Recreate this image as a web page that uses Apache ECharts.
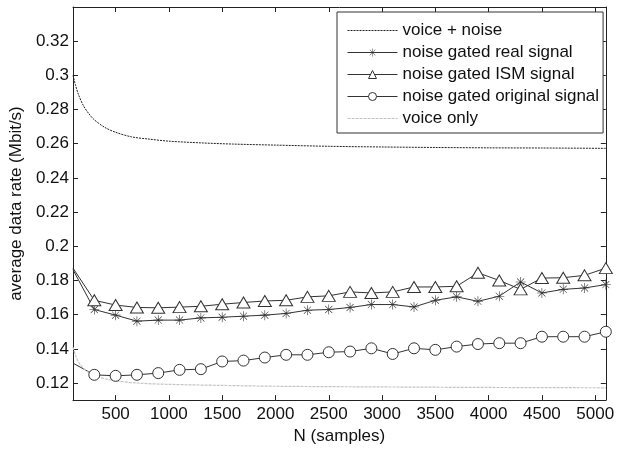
<!DOCTYPE html>
<html>
<head>
<meta charset="utf-8">
<script src="https://cdn.jsdelivr.net/npm/echarts@6/dist/echarts.min.js"></script>
<style>
  html, body { margin: 0; padding: 0; background: #fff; }
  #chart { width: 617px; height: 450px; }
</style>
</head>
<body>
<div id="chart"></div>
<script>
// x positions of the marker series (first point has no marker)
var nMarked = [100, 300, 500, 700, 900, 1100, 1300, 1500, 1700, 1900, 2100, 2300, 2500,
  2700, 2900, 3100, 3300, 3500, 3700, 3900, 4100, 4300, 4500, 4700, 4900, 5100];
var realSignal = [0.1863, 0.163, 0.1597, 0.1562, 0.1568, 0.1568, 0.1581, 0.1585, 0.1591, 0.1597, 0.1607, 0.1626, 0.163,
  0.1642, 0.1659, 0.1659, 0.1645, 0.1684, 0.1704, 0.1678, 0.1708, 0.1791, 0.1727, 0.1748, 0.1756, 0.1776];
var ismSignal = [0.1872, 0.1684, 0.1656, 0.1642, 0.164, 0.1644, 0.1649, 0.1661, 0.1671, 0.168, 0.1684, 0.1704, 0.171,
  0.1733, 0.1727, 0.1733, 0.1762, 0.1762, 0.1766, 0.1845, 0.18, 0.1748, 0.1814, 0.1816, 0.183, 0.1872];
var origSignal = [0.1316, 0.1248, 0.1242, 0.1248, 0.1258, 0.1277, 0.1281, 0.1326, 0.1331, 0.1349, 0.1365, 0.1365, 0.138,
  0.1384, 0.1403, 0.137, 0.1403, 0.1394, 0.1413, 0.1428, 0.1433, 0.1433, 0.1471, 0.1471, 0.1471, 0.150];

// dense curves
var nNoise = [100, 125, 150, 200, 250, 300, 400, 500, 650, 800, 1000, 1300, 1600, 2000, 2500, 3000, 3500, 4000, 4500, 5100];
var voiceNoise = [0.300, 0.294, 0.289, 0.282, 0.2775, 0.274, 0.2695, 0.2667, 0.264, 0.2628, 0.2615, 0.2605, 0.2598,
  0.2592, 0.2585, 0.2581, 0.2578, 0.2576, 0.2575, 0.2573];
var nVoice = [100, 125, 150, 200, 250, 300, 400, 500, 700, 1000, 1500, 2000, 3000, 4000, 5100];
var voiceOnly = [0.141, 0.136, 0.1325, 0.1285, 0.1262, 0.1245, 0.1225, 0.1213, 0.120, 0.1192, 0.1186, 0.1181, 0.1177, 0.1174, 0.1172];

var xTicks = [500, 1000, 1500, 2000, 2500, 3000, 3500, 4000, 4500, 5000];
var yTicks = [0.12, 0.14, 0.16, 0.18, 0.2, 0.22, 0.24, 0.26, 0.28, 0.3, 0.32];

var FONT = '"Liberation Sans", Arial, sans-serif';
var INK = '#222';
var asterisk = 'path://M9.4 0L10.6 0L10.6 20L9.4 20ZM0 9.4L20 9.4L20 10.6L0 10.6Z' +
  'M2.5 3.35L3.35 2.5L17.5 16.65L16.65 17.5Z' +
  'M16.65 2.5L17.5 3.35L3.35 17.5L2.5 16.65Z';

function pairs(xs, ys) {
  return xs.map(function (x, i) { return [x, ys[i]]; });
}
function marked(ys) {
  return nMarked.map(function (x, i) {
    var item = { value: [x, ys[i]] };
    if (i === 0) item.symbol = 'none';
    return item;
  });
}

var chart = echarts.init(document.getElementById('chart'));

var frameAxis = {
  axisLine: { show: true, onZero: false, lineStyle: { color: INK, width: 1 } },
  axisTick: { show: true, inside: true, length: 5, lineStyle: { color: INK } },
  splitLine: { show: false }
};

chart.setOption({
  animation: false,
  backgroundColor: '#fff',
  textStyle: { fontFamily: FONT },
  grid: { left: 68.5, right: 11, top: 7, bottom: 48 },
  legend: {
    orient: 'vertical',
    left: 337,
    top: 12,
    padding: [10, 4, 6, 10],
    itemWidth: 50,
    itemHeight: 10,
    itemGap: 5,
    backgroundColor: '#fff',
    borderColor: '#333',
    borderWidth: 1,
    borderRadius: 0,
    textStyle: { fontFamily: FONT, fontSize: 17, color: '#111' },
    data: [
      { name: 'voice + noise', itemStyle: { opacity: 0 }, lineStyle: { width: 1 } },
      { name: 'noise gated real signal', lineStyle: { width: 1 } },
      { name: 'noise gated ISM signal', itemStyle: { borderWidth: 1 }, lineStyle: { width: 1 } },
      { name: 'noise gated original signal', itemStyle: { borderWidth: 1 }, lineStyle: { width: 1 } },
      { name: 'voice only', itemStyle: { opacity: 0 }, lineStyle: { width: 1 } }
    ]
  },
  xAxis: [
    Object.assign({}, frameAxis, {
      type: 'value', min: 100, max: 5100, position: 'bottom',
      name: 'N (samples)', nameLocation: 'middle', nameGap: 23,
      nameTextStyle: { fontSize: 17, color: '#111' },
      axisTick: Object.assign({}, frameAxis.axisTick, { customValues: xTicks }),
      axisLabel: {
        customValues: xTicks, fontSize: 17, color: '#111', margin: 6,
        formatter: function (v) { return String(v); }
      }
    }),
    Object.assign({}, frameAxis, {
      type: 'value', min: 100, max: 5100, position: 'top',
      axisTick: Object.assign({}, frameAxis.axisTick, { customValues: xTicks }),
      axisLabel: { show: false }
    })
  ],
  yAxis: [
    Object.assign({}, frameAxis, {
      type: 'value', min: 0.11, max: 0.34, position: 'left',
      name: 'average data rate (Mbit/s)', nameLocation: 'middle', nameGap: 39,
      nameTextStyle: { fontSize: 17, color: '#111' },
      axisTick: Object.assign({}, frameAxis.axisTick, { customValues: yTicks }),
      axisLabel: { customValues: yTicks, fontSize: 17, color: '#111', margin: 4 }
    }),
    Object.assign({}, frameAxis, {
      type: 'value', min: 0.11, max: 0.34, position: 'right',
      axisTick: Object.assign({}, frameAxis.axisTick, { customValues: yTicks }),
      axisLabel: { show: false }
    })
  ],
  series: [
    {
      name: 'voice + noise', type: 'line', smooth: 0.3, symbol: 'none',
      lineStyle: { color: INK, width: 1, type: [2, 1] },
      itemStyle: { color: INK },
      data: pairs(nNoise, voiceNoise)
    },
    {
      name: 'noise gated real signal', type: 'line', clip: false,
      symbol: asterisk, symbolSize: 10,
      lineStyle: { color: '#333', width: 1 },
      itemStyle: { color: '#333', borderWidth: 0 },
      data: marked(realSignal)
    },
    {
      name: 'noise gated ISM signal', type: 'line', clip: false,
      symbol: 'triangle', symbolSize: [13, 11],
      lineStyle: { color: '#333', width: 1 },
      itemStyle: { color: '#fff', borderColor: '#333', borderWidth: 1 },
      data: marked(ismSignal)
    },
    {
      name: 'noise gated original signal', type: 'line', clip: false,
      symbol: 'circle', symbolSize: 11,
      lineStyle: { color: '#333', width: 1 },
      itemStyle: { color: '#fff', borderColor: '#333', borderWidth: 1 },
      data: marked(origSignal)
    },
    {
      name: 'voice only', type: 'line', smooth: 0.3, symbol: 'none',
      lineStyle: { color: '#c4c4c4', width: 1.2, type: [3, 1] },
      itemStyle: { color: '#c4c4c4' },
      data: pairs(nVoice, voiceOnly)
    }
  ]
});
</script>
</body>
</html>
